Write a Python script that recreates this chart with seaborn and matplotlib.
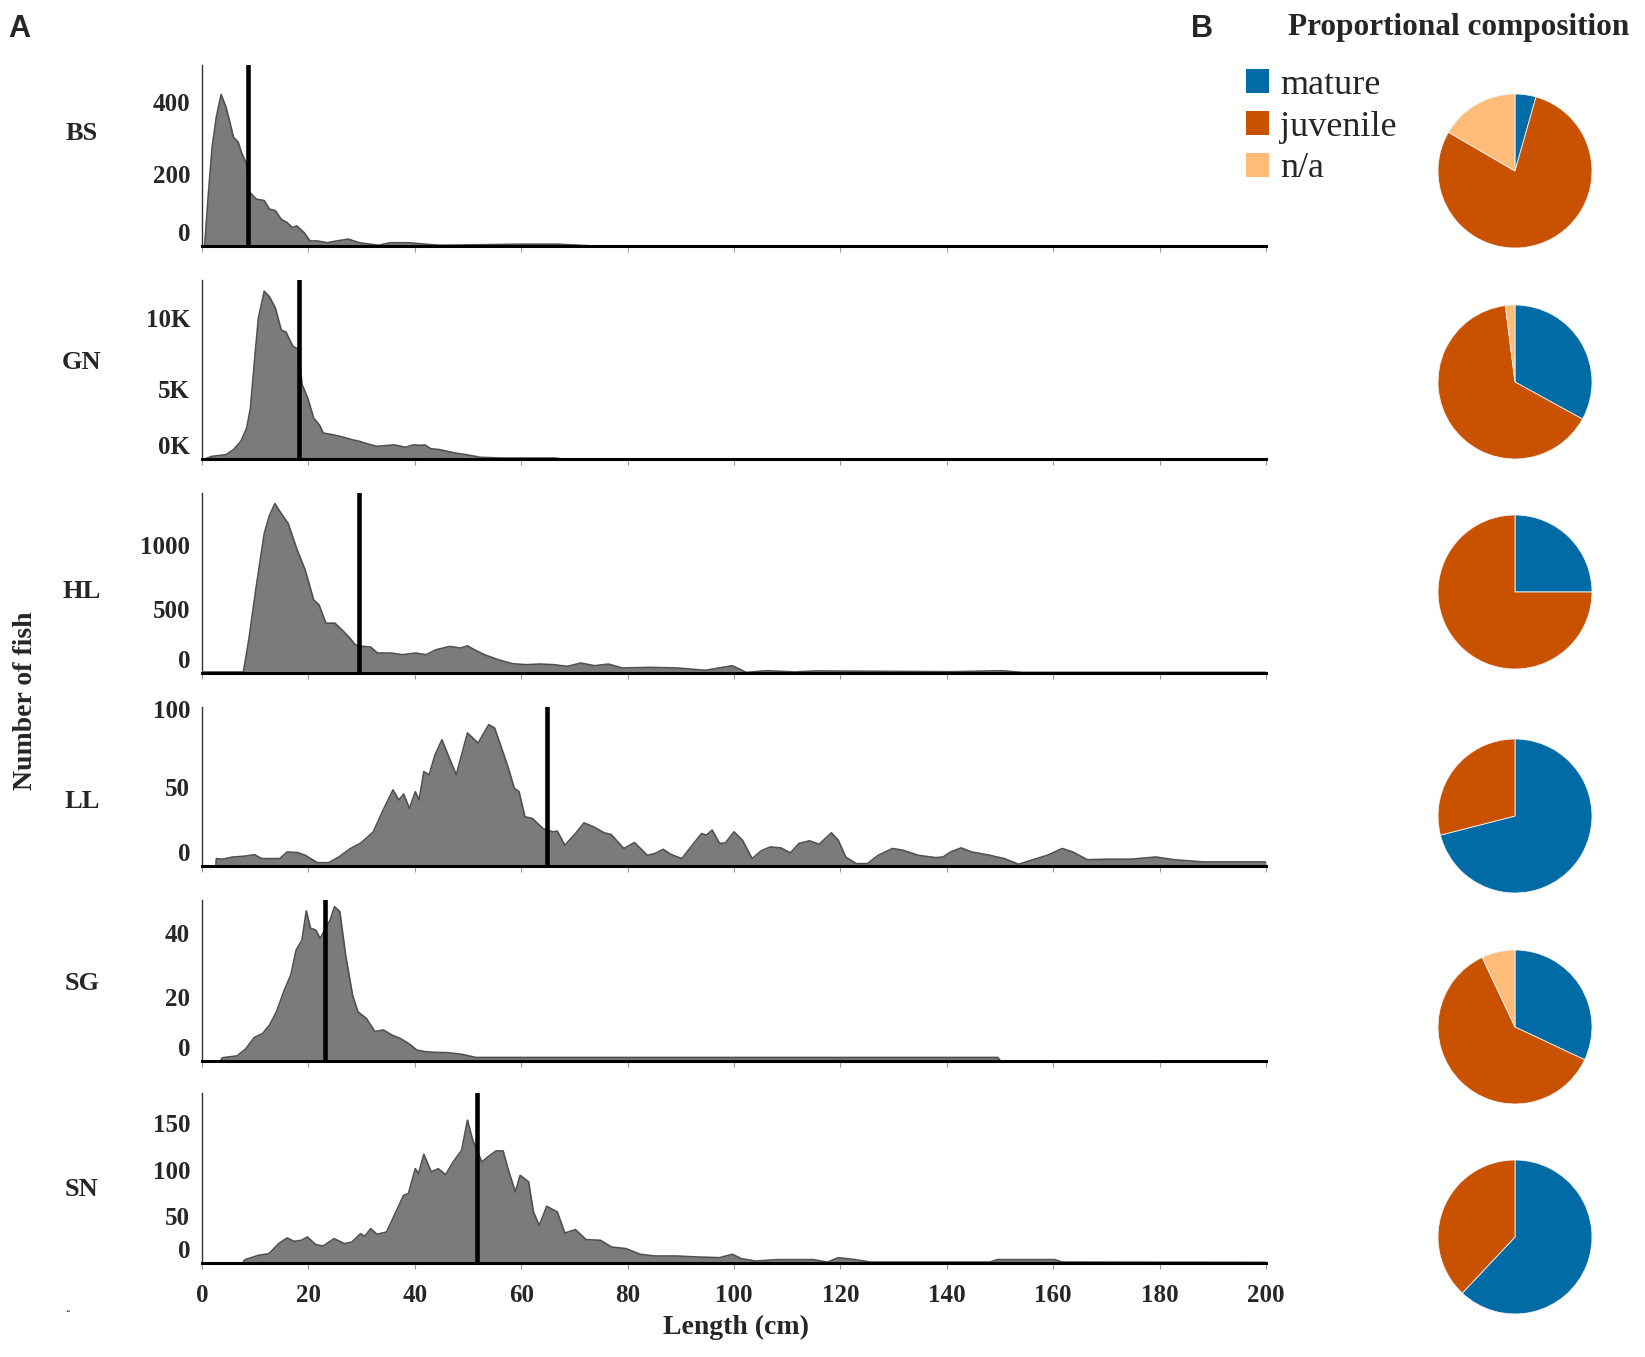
import numpy as np
import matplotlib
matplotlib.use("Agg")
import matplotlib.pyplot as plt
from matplotlib.patches import Patch
from matplotlib.transforms import ScaledTranslation
import seaborn as sns

# ---- data (length in cm, number of fish) ----
gears = ["BS", "GN", "HL", "LL", "SG", "SN"]

bs_len = [0.5, 1.2, 1.9, 2.7, 3.6, 4.5, 5.3, 5.9, 6.8, 7.5, 8.1, 8.4, 8.9, 10.2, 11.7, 12.7, 13.8, 14.9,
          16.0, 17.0, 17.8, 19.2, 20.3, 21.7, 23.5, 25.3, 27.5, 29.6, 33.2, 35.4, 39.0, 41.9, 44.7, 59.9,
          67.0, 73.5, 200]
bs_n = [0, 144, 274, 358, 420, 386, 340, 302, 288, 256, 237, 225, 150, 130, 126, 102, 98, 74,
        65, 51, 56, 37, 14, 14, 9, 14, 19, 9, 2, 9, 9, 5, 2, 5,
        5, 0, 0]

gn_len = [0.5, 1.9, 4.5, 5.9, 7.3, 8.4, 9.1, 9.9, 10.6, 11.7, 12.7, 13.8, 14.9, 15.8, 16.3, 17.1, 17.8,
          18.2, 18.8, 19.9, 21.0, 22.1, 22.8, 24.6, 26.4, 28.2, 29.6, 31.8, 32.9, 36.1, 38.3, 39.7, 41.2,
          41.9, 43.0, 44.7, 47.6, 49.8, 52.3, 56.3, 66.3, 67.8, 200]
gn_n = [0, 190, 300, 660, 1250, 2200, 3600, 7100, 10000, 11900, 11500, 10700, 9150, 9000, 8600, 8000, 7850,
        7700, 5300, 4300, 2900, 2400, 1840, 1720, 1560, 1370, 1250, 1000, 900, 1000, 830, 1000, 970,
        1000, 730, 660, 420, 300, 120, 70, 70, 0, 0]

hl_len = [0, 7.5, 7.8, 8.8, 10.1, 11.7, 12.7, 13.7, 14.9, 16.2, 17.9, 19.4, 21.0, 22.0, 23.3, 25.0, 26.6,
          27.8, 28.8, 30.4, 31.7, 33.0, 35.6, 37.6, 40.2, 42.1, 44.0, 46.6, 48.6, 49.9, 51.2, 53.1, 55.7,
          58.3, 60.9, 63.5, 66.1, 68.7, 71.2, 73.8, 76.4, 79.0, 84.2, 89.4, 94.6, 99.7, 102.3, 106.2,
          111.4, 115.3, 128.2, 141.2, 150.3, 154.1, 200]
hl_n = [8, 8, 13, 260, 650, 1092, 1235, 1326, 1248, 1170, 962, 806, 572, 533, 390, 390, 325,
        273, 221, 208, 203, 156, 156, 143, 156, 143, 182, 208, 195, 213, 182, 143, 104,
        73, 65, 70, 65, 52, 78, 57, 70, 39, 44, 39, 21, 57, 5, 18,
        8, 16, 13, 10, 18, 5, 5]

ll_len = [2.6, 2.7, 3.8, 5.8, 7.9, 9.9, 11.2, 14.6, 16.0, 18.0,
          19.4, 21.7, 23.8, 25.7, 27.9, 29.9, 32.2, 33.9, 35.9, 37.0,
          37.9, 39.0, 40.1, 40.8, 41.7, 42.7, 43.8, 45.1, 46.5, 47.8,
          49.9, 51.9, 53.9, 55.0, 56.2, 57.6, 58.7, 59.6, 60.7, 62.1,
          64.1, 65.9, 66.8, 68.2, 70.2, 71.8, 73.6, 75.6, 76.9, 79.3,
          81.3, 83.7, 85.1, 86.7, 88.1, 90.2, 91.9, 93.9, 94.8, 95.9,
          97.3, 98.4, 100.0, 101.6, 103.4, 105.1, 106.8, 108.8, 110.6, 112.2,
          114.2, 116.0, 118.3, 119.6, 121.0, 123.0, 125.1, 127.1, 129.8, 131.8,
          134.6, 137.9, 139.3, 140.7, 142.7, 144.7, 148.1, 150.8, 153.5, 156.2,
          158.9, 161.7, 163.7, 166.4, 170.5, 174.6, 179.3, 182.7, 188.1, 200]
ll_n = [0, 4.7, 4.3, 5.7, 6.2, 7.2, 4.7, 4.7, 8.9, 8.5,
        6.8, 2.1, 2.1, 5.7, 11.1, 14.7, 21.7, 34.5, 48.3, 41.9,
        45.7, 36.6, 47.2, 41.9, 60.0, 57.9, 70.6, 80.2, 68.5, 57.9,
        84.5, 78.1, 89.8, 87.7, 76.0, 62.1, 49.4, 47.2, 31.3, 30.2,
        23.8, 21.7, 22.1, 13.2, 20.6, 27.4, 24.9, 21.1, 20.0, 11.1,
        14.9, 6.8, 7.9, 10.6, 7.4, 4.7, 12.1, 20.6, 19.6, 22.8,
        14.3, 14.7, 21.7, 16.4, 4.7, 9.6, 12.1, 11.5, 8.3, 14.3,
        16.0, 13.8, 21.1, 16.4, 5.7, 1.5, 1.5, 6.8, 11.1, 10.0,
        6.8, 5.3, 5.7, 8.9, 11.5, 8.9, 6.8, 4.7, 1.1, 4.0,
        6.8, 11.1, 8.9, 4.0, 4.3, 4.3, 5.7, 4.0, 2.6, 2.6]

sg_len = [3.5, 3.8, 6.6, 8.2, 9.8, 11.4, 12.7, 14.0, 15.6, 16.7, 17.7, 18.8, 19.6, 20.4, 21.4, 22.2,
          24.1, 24.9, 25.9, 27.0, 28.3, 29.3, 30.9, 32.5, 34.1, 35.7, 37.2, 38.8, 40.4, 42.0, 43.6,
          46.2, 48.8, 51.5, 149.6, 150.1]
sg_n = [0, 1.0, 1.6, 3.75, 7.3, 8.6, 11.25, 15.4, 22.7, 26.9, 34.7, 37.8, 46.9, 41.5, 40.9, 38.3,
        44.1, 48.2, 46.7, 33.1, 20.6, 15.4, 13.3, 9.2, 9.7, 8.1, 7.1, 5.5, 3.4, 2.9, 2.7,
        2.6, 2.1, 1.1, 1.1, 0]

sn_len = [7.6, 8.1, 10.6, 12.6, 14.4, 16.0, 17.3, 18.7, 19.8, 21.4,
          22.8, 24.8, 26.8, 28.2, 29.8, 30.6, 31.7, 32.9, 34.7, 36.3,
          37.9, 38.8, 40.1, 40.7, 41.7, 43.1, 44.4, 45.8, 47.2, 48.8,
          49.9, 50.9, 52.6, 53.9, 55.3, 56.6, 57.6, 58.9, 59.8, 61.4,
          62.3, 63.4, 64.8, 66.8, 68.2, 70.2, 72.2, 74.9, 77.0, 79.7,
          82.4, 85.1, 89.2, 93.2, 97.3, 99.7, 101.4, 104.1, 108.1, 114.9,
          117.6, 119.6, 122.4, 125.7, 148.1, 149.5, 160.3, 161.7, 200]
sn_n = [0, 3.6, 8.2, 10, 20.7, 26.8, 23.2, 24.3, 27.9, 19.6,
        18.2, 26.1, 20.7, 22.5, 31.4, 28.6, 36.8, 30.7, 33.2, 52.9,
        72.5, 74.3, 101, 95.7, 116.4, 97.5, 101, 94.6, 108.2, 120.7,
        152.9, 131.4, 108.2, 114.3, 120, 120, 99.3, 76.1, 93.9, 86.8,
        54.6, 40.4, 60.7, 54.6, 32.1, 35.7, 25, 24.3, 17.1, 15.4,
        9.3, 7.5, 7.5, 6.4, 5.7, 9.3, 4.6, 2.1, 3.6, 3.6,
        1, 5.7, 3.9, 1, 1, 3.6, 3.6, 1, 0.7]

# mean length (black vertical line)
mean_len = [8.6, 18.3, 29.5, 64.9, 23.2, 51.6]

# y axis ticks per gear
y_ticks = [[0, 200, 400], [0, 5000, 10000], [0, 500, 1000], [0, 50, 100], [0, 20, 40], [0, 50, 100, 150]]
y_ticklabels = [["0", "200", "400"], ["0K", "5K", "10K"], ["0", "500", "1000"],
                ["0", "50", "100"], ["0", "20", "40"], ["0", "50", "100", "150"]]
x_ticks = [0, 20, 40, 60, 80, 100, 120, 140, 160, 180, 200]

# maturity composition (%)
stages = ["mature", "juvenile", "n/a"]
pie_mature = [4.4, 33, 25, 71, 32, 62]
pie_juvenile = [79, 65, 75, 29, 61, 38]
pie_na = [16.6, 2, 0, 0, 7, 0]
stage_colors = ["#006BA4", "#C85200", "#FFBC79"]

lengths = [bs_len, gn_len, hl_len, ll_len, sg_len, sn_len]
counts = [bs_n, gn_n, hl_n, ll_n, sg_n, sn_n]

# ---- layout (pixels of the 1645x1357 picture) ----
W, H = 1645, 1357
y_max = [502, 12700, 1409, 101, 50.3, 182]
panel_top = [65, 280, 493, 707, 900, 1093]
panel_bot = [246, 459, 673, 866, 1061, 1263]
label_y = [134, 362, 591, 801, 984, 1190]
pie_cy = [171, 382, 592, 816, 1027, 1237]
pie_cx = 1515
ax_left, ax_right = 202, 1266

sns.set_style("white")
plt.rcParams["font.family"] = ["Liberation Serif", "DejaVu Serif"]
plt.rcParams["font.weight"] = "bold"

fig = plt.figure(figsize=(W / 100, H / 100), dpi=100)

for i, g in enumerate(gears):
    ax = fig.add_axes([ax_left / W, 1 - panel_bot[i] / H,
                       (ax_right - ax_left) / W, (panel_bot[i] - panel_top[i]) / H])
    x = lengths[i]
    y = counts[i]
    ax.fill_between(x, y, color="#7b7b7b", lw=0, zorder=2)
    sns.lineplot(x=x, y=y, ax=ax, color="#505050", lw=1.2, zorder=3)
    ax.axvline(mean_len[i], color="black", lw=3.3, zorder=5)

    ax.set_xlim(0, 200)
    ax.set_ylim(0, y_max[i])
    ax.set_xticks(x_ticks)
    ax.set_yticks(y_ticks[i])
    ax.set_yticklabels(y_ticklabels[i])
    ax.set_xlabel("")
    ax.set_ylabel("")
    ax.tick_params(axis="y", length=2.5, width=0.8, color="#999999", pad=6, labelsize=18)
    ax.tick_params(axis="x", length=4, width=0.8, color="#999999", pad=11, labelsize=18,
                   bottom=True)
    if i < len(gears) - 1:
        ax.set_xticklabels([])
    # the zero label sits a bit above the baseline in the original
    zero_lab = ax.get_yticklabels()[0]
    zero_lab.set_transform(zero_lab.get_transform() + ScaledTranslation(0, 0.14, fig.dpi_scale_trans))

    for s in ["top", "right"]:
        ax.spines[s].set_visible(False)
    ax.spines["left"].set_color("#333333")
    ax.spines["left"].set_linewidth(1.0)
    ax.spines["bottom"].set_color("black")
    ax.spines["bottom"].set_linewidth(2.2)
    ax.spines["bottom"].set_zorder(6)

    fig.text(82 / W, 1 - label_y[i] / H, g, ha="center", va="center", fontsize=19, fontweight="bold")

    # pie
    pax = fig.add_axes([(pie_cx - 80) / W, 1 - (pie_cy[i] + 80) / H, 160 / W, 160 / H])
    vals = [pie_mature[i], pie_juvenile[i], pie_na[i]]
    keep = [k for k in range(3) if vals[k] > 0]
    pax.pie([vals[k] for k in keep], colors=[stage_colors[k] for k in keep], radius=0.9625,
            startangle=90, counterclock=False,
            wedgeprops=dict(linewidth=0.6, edgecolor="#f3f3f3"))
    pax.set_xlim(-1, 1)
    pax.set_ylim(-1, 1)
    pax.set_aspect("equal")
    pax.axis("off")

fig.text(26 / W, 1 - 701 / H, "Number of fish", rotation=90, ha="center", va="center",
         fontsize=20, fontweight="bold")
fig.text(736 / W, 1 - 1327 / H, "Length (cm)", ha="center", va="center", fontsize=20, fontweight="bold")
fig.text(8 / W, 1 - 29 / H, "A", family=["Liberation Sans", "DejaVu Sans"], ha="left", va="center",
         fontsize=22, fontweight="bold")
fig.text(1191 / W, 1 - 29 / H, "B", family=["Liberation Sans", "DejaVu Sans"], ha="left", va="center",
         fontsize=22, fontweight="bold")
fig.text(1459 / W, 1 - 28 / H, "Proportional composition", ha="center", va="center",
         fontsize=22.5, fontweight="bold")
fig.text(68 / W, 1 - 1310 / H, "..", ha="center", va="center", fontsize=8, color="#555555")

handles = [Patch(facecolor=c, edgecolor="none") for c in stage_colors]
leg = fig.legend(handles, stages, loc="upper left", bbox_to_anchor=(1246 / W, 1 - 69 / H),
                 frameon=False, fontsize=26, handlelength=0.65, handleheight=0.65,
                 handletextpad=0.3, labelspacing=0.24, borderpad=0, borderaxespad=0)
for t in leg.get_texts():
    t.set_fontweight("normal")

fig.savefig("out.png", dpi=100)
